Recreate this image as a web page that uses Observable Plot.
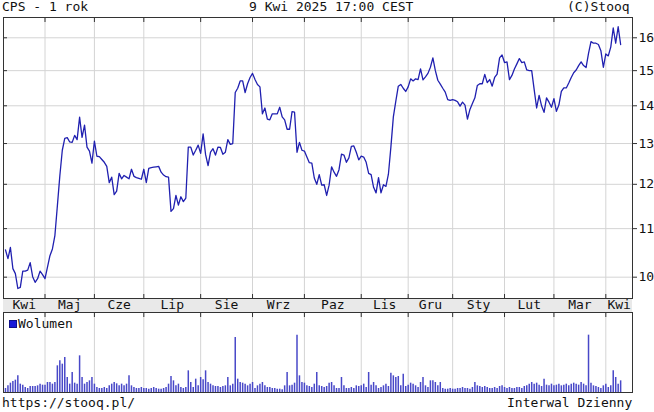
<!DOCTYPE html>
<html><head><meta charset="utf-8">
<script src="https://cdn.jsdelivr.net/npm/d3@7"></script>
<script src="https://cdn.jsdelivr.net/npm/@observablehq/plot@0.6"></script>
<style>
body{margin:0;background:#fff;}
#wrap{position:relative;width:654px;height:412px;font-family:"DejaVu Sans Mono",monospace;font-size:13px;color:#111;overflow:hidden;}
.t{position:absolute;white-space:pre;line-height:15px;}
#band{position:absolute;left:3px;width:629px;top:298px;height:14px;background:#e9e9e9;}
#price,#vol{position:absolute;left:0;}
#price{top:0;}
#vol{top:311px;}
#sq{position:absolute;left:9px;top:320px;width:6px;height:6px;background:#1a1ad8;border:1px solid #10108a;}
</style></head><body>
<div id="wrap">
  <div id="band"></div>
  <div id="price"></div>
  <div id="vol"></div>
  <div class="t" style="left:2px;top:-1px">CPS - 1 rok</div>
  <div class="t" style="left:249px;top:-1px">9 Kwi 2025 17:00 CEST</div>
  <div class="t" style="left:567px;top:-1px">(C)Stooq</div>
  <div id="sq"></div>
  <div class="t" style="left:18px;top:316px">Wolumen</div>
  <div class="t" style="left:2px;top:395px">https://stooq.pl/</div>
  <div class="t" style="left:507px;top:395px">Interwal Dzienny</div>
</div>
<script>
const closes = [
10.55,10.37,10.60,10.17,10.07,9.78,9.80,10.12,10.12,10.14,
10.29,10.01,9.90,9.97,10.12,10.05,9.97,10.20,10.43,10.57,
10.85,11.50,12.20,12.83,13.13,13.15,13.04,13.03,13.21,13.10,
13.69,13.16,13.48,12.91,12.81,12.51,13.06,12.68,12.67,12.60,
12.53,12.43,12.04,12.17,11.76,11.84,12.26,12.13,12.21,12.17,
12.13,12.36,12.19,12.16,12.14,12.12,12.36,12.04,12.38,12.40,
12.41,12.42,12.43,12.29,12.22,12.18,12.17,11.38,11.44,11.74,
11.52,11.71,11.60,11.68,12.91,12.91,12.71,12.83,12.96,12.75,
13.25,12.72,12.45,12.78,12.87,12.71,12.91,12.90,12.73,12.78,
13.10,12.98,13.00,14.37,14.49,14.70,14.70,14.37,14.62,14.80,
14.92,14.74,14.60,14.53,13.78,13.94,13.64,13.62,13.78,13.78,
13.78,13.96,13.70,13.62,13.37,13.37,13.84,13.83,12.78,13.03,
12.83,12.81,12.66,12.52,12.51,12.15,12.00,12.23,11.98,11.99,
11.74,11.98,12.42,12.29,12.19,12.35,12.73,12.71,12.53,12.64,
12.93,12.94,12.78,12.59,12.68,12.66,12.53,12.26,12.23,11.93,
11.80,12.16,11.80,11.99,11.95,12.24,12.91,13.70,14.13,14.55,
14.60,14.49,14.40,14.53,14.76,14.70,14.76,14.74,15.05,14.73,
14.82,14.92,15.10,15.38,15.00,14.72,14.61,14.49,14.38,14.17,
14.15,14.17,14.15,14.11,13.99,14.10,14.02,13.64,13.90,14.06,
14.22,14.57,14.62,14.62,14.89,14.65,14.74,14.55,14.80,14.90,
15.38,15.47,15.24,15.26,14.74,14.86,15.05,15.20,15.36,15.24,
15.26,15.02,15.00,15.00,14.45,13.94,14.29,14.00,13.82,14.22,
14.10,13.96,14.20,13.85,14.02,14.40,14.50,14.50,14.64,14.80,
14.94,15.02,15.15,15.26,15.15,15.09,15.52,15.88,15.83,15.83,
15.79,15.60,15.10,15.50,15.44,15.71,16.31,15.83,16.35,15.79
];
const volumes = [
12,20,28,33,37,50,25,22,15,12,
18,18,18,20,25,22,22,30,30,25,
30,80,95,85,105,45,25,60,28,25,
110,45,25,30,35,45,25,15,12,12,
15,12,20,25,30,26,20,25,20,25,
50,20,15,12,12,15,12,12,10,12,
15,12,10,10,12,15,25,48,35,20,
25,15,12,15,65,30,15,40,20,45,
38,65,30,25,20,18,18,15,18,20,
45,20,25,165,40,30,28,25,20,25,
30,12,20,25,30,20,15,15,12,12,
10,10,8,20,60,20,22,28,172,50,
30,28,20,18,15,25,60,20,18,15,
18,28,30,20,12,12,45,20,12,12,
15,12,20,18,20,25,15,60,22,30,
20,12,15,20,25,18,58,50,45,48,
20,55,18,22,28,25,20,15,30,45,
20,15,35,35,30,20,30,12,10,10,
12,10,10,12,12,15,12,12,10,15,
30,20,18,15,18,15,12,12,15,12,
18,20,15,12,15,12,12,15,15,12,
18,20,25,30,25,28,22,18,40,22,
20,25,20,22,25,20,22,25,20,25,
28,25,22,30,25,20,172,28,20,18,
15,12,20,25,15,20,65,45,25,35
];
const monthStarts = [16,36,56,79,100,121,144,163,181,202,222,243];
const monthLabels = ["Kwi","Maj","Cze","Lip","Sie","Wrz","Paz","Lis","Gru","Sty","Lut","Mar","Kwi"];
const yTicks = [10,11,12,13,14,15,16];
const xDomain = [-0.8, 253.8];
const yDomain = [9.59, 16.65];
const volDomain = [0, 240];

const rows = closes.map((c, i) => ({i, c, v: volumes[i]}));
const bounds = [xDomain[0], ...monthStarts, xDomain[1]];
const labelPos = monthLabels.map((_, k) => (bounds[k] + bounds[k + 1]) / 2);
const labelMap = new Map(labelPos.map((p, k) => [p, monthLabels[k]]));

const grid = "#d4d4d4";
const ink = "#333";
const style = {fontFamily: "'DejaVu Sans Mono', monospace", fontSize: "13px", color: "#111", background: "transparent", overflow: "visible"};

const price = Plot.plot({
  width: 654, height: 313,
  marginTop: 17, marginBottom: 15, marginLeft: 3, marginRight: 22,
  x: {domain: xDomain, axis: null, label: null},
  y: {type: "log", domain: yDomain, axis: null, label: null},
  style,
  marks: [
    Plot.ruleY(yTicks, {stroke: grid}),
    Plot.ruleX(monthStarts, {stroke: grid}),
    Plot.lineY(rows, {x: "i", y: "c", stroke: "#2020b0", strokeWidth: 1.3}),
    Plot.axisY(yTicks, {anchor: "right", tickSize: 4, tickPadding: 2, tickFormat: d => String(d), fontSize: 13, stroke: ink, fill: "#111", label: null}),
    Plot.axisY(yTicks, {anchor: "left", tickSize: -4, text: null, stroke: ink, label: null}),
    Plot.axisX(monthStarts, {anchor: "top", tickSize: -4, text: null, stroke: ink, label: null}),
    Plot.axisX(monthStarts, {anchor: "bottom", tickSize: -4, text: null, stroke: ink, label: null}),
    Plot.axisX(labelPos, {anchor: "bottom", tickSize: 0, tickPadding: 1, tickFormat: d => labelMap.get(d), fontSize: 13, fill: "#111", label: null}),
    Plot.frame({stroke: ink})
  ]
});
document.getElementById("price").append(price);

const vol = Plot.plot({
  width: 654, height: 83,
  marginTop: 1, marginBottom: 2, marginLeft: 3, marginRight: 22,
  x: {domain: xDomain, axis: null, label: null},
  y: {domain: volDomain, axis: null, label: null},
  style,
  marks: [
    Plot.ruleX(monthStarts, {stroke: grid}),
    Plot.ruleX(rows, {x: "i", y: "v", stroke: "#4848c8", strokeWidth: 1.5}),
    Plot.axisX(monthStarts, {anchor: "top", tickSize: -4, text: null, stroke: ink, label: null}),
    Plot.frame({stroke: ink})
  ]
});
document.getElementById("vol").append(vol);
</script>
</body></html>
